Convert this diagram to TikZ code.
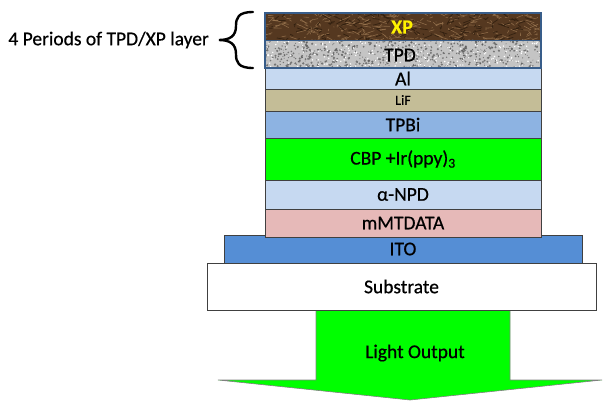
\documentclass[tikz,border=0pt]{standalone}
\usepackage{fontspec}
\setmainfont{Carlito}[FakeBold=0.6]
\definecolor{alblue}{HTML}{C6D9F1}
\definecolor{liftan}{HTML}{C4BD97}
\definecolor{tpbiblue}{HTML}{8DB3E2}
\definecolor{cbpgreen}{HTML}{00FF00}
\definecolor{mmpink}{HTML}{E6B9B8}
\definecolor{itoblue}{HTML}{558ED5}
\definecolor{edgegrey}{HTML}{404040}
\definecolor{groupblue}{HTML}{385D8A}
\definecolor{xpbrown}{HTML}{553820}
\definecolor{xplight}{HTML}{9A7650}
\definecolor{xpdark}{HTML}{2E1D0E}
\definecolor{tpdgrey}{HTML}{C4C4C4}
\definecolor{tpddark}{HTML}{5A5A5A}
\definecolor{arrowgreen}{HTML}{00FF00}
\begin{document}
\begin{tikzpicture}[x=1pt,y=-1pt,
  layer/.style={draw=edgegrey, line width=0.9pt, inner sep=0pt, font=\fontsize{19.5}{21}\selectfont, text=black},
  lbl/.style={inner sep=0pt, font=\fontsize{19.5}{21}\selectfont, text=black}]
\useasboundingbox (0,0) rectangle (603,400);
% light output arrow
\draw[draw=gray, line width=0.6pt, fill=arrowgreen]
  (316,310) -- (510,310) -- (510,380) -- (602,380) -- (410,400) -- (218,380) -- (316,380) -- cycle;
\node[lbl] (light) at (415,353) {Light Output};
% substrate and ITO
\node[layer, fill=white, minimum width=389pt, minimum height=47pt] (sub) at (401.5,286.5) {Substrate};
\node[layer, fill=itoblue, minimum width=358pt, minimum height=28pt] (ito) at (403,249) {ITO};
% organic stack
\node[layer, fill=mmpink, minimum width=276pt, minimum height=28pt] (mm) at (403,223) {mMTDATA};
\node[layer, fill=alblue, minimum width=276pt, minimum height=29pt] (npd) at (403,194.5) {α-NPD};
\node[layer, fill=cbpgreen, minimum width=276pt, minimum height=42pt] (cbp) at (403,159) {CBP +Ir(ppy)\textsubscript{3}};
\node[layer, fill=tpbiblue, minimum width=276pt, minimum height=27pt] (tpbi) at (403,124.5) {TPBi};
\node[layer, fill=liftan, minimum width=276pt, minimum height=22pt, font=\fontsize{14}{16}\selectfont] (lif) at (403,100) {LiF};
\node[layer, fill=alblue, minimum width=276pt, minimum height=21pt] (al) at (403,78.5) {Al};
% textured TPD / XP layers
\node[inner sep=0pt, fill=tpdgrey, minimum width=276pt, minimum height=28pt] (tpd) at (403,54) {};
\node[inner sep=0pt, fill=xpbrown, minimum width=276pt, minimum height=27pt] (xp) at (403,26.5) {};
\pgfmathsetseed{7}
\begin{scope}
  \clip (tpd.south west) rectangle (tpd.north east);
  \foreach \i in {1,...,650} {
    \pgfmathsetmacro\rx{265+276*rnd}
    \pgfmathsetmacro\ry{40+28*rnd}
    \pgfmathsetmacro\rr{0.4+0.9*rnd}
    \fill[tpddark, opacity=0.75] (\rx,\ry) circle (\rr pt);
  }
  \foreach \i in {1,...,220} {
    \pgfmathsetmacro\rx{265+276*rnd}
    \pgfmathsetmacro\ry{40+28*rnd}
    \fill[white] (\rx,\ry) circle (0.8pt);
  }
\end{scope}
\begin{scope}
  \clip (xp.south west) rectangle (xp.north east);
  \foreach \i in {1,...,260} {
    \pgfmathsetmacro\rx{265+276*rnd}
    \pgfmathsetmacro\ry{13+27*rnd}
    \pgfmathsetmacro\dx{10*rand}
    \pgfmathsetmacro\dy{4*rand}
    \draw[xplight, line width=0.6pt, opacity=0.8] (\rx,\ry) -- ++(\dx,\dy);
  }
  \foreach \i in {1,...,160} {
    \pgfmathsetmacro\rx{265+276*rnd}
    \pgfmathsetmacro\ry{13+27*rnd}
    \pgfmathsetmacro\dx{8*rand}
    \pgfmathsetmacro\dy{4*rand}
    \draw[xpdark, line width=0.8pt, opacity=0.8] (\rx,\ry) -- ++(\dx,\dy);
  }
\end{scope}
\draw[groupblue, line width=1pt] (tpd.south west) -- (tpd.south east);
\draw[groupblue, line width=1.8pt] (xp.north west) rectangle (tpd.south east);
\draw[groupblue, line width=1.2pt] (xp.south west) -- (xp.south east);
\node[lbl, font=\bfseries\fontsize{20}{22}\selectfont, text=yellow] (xptext) at (402,27) {XP};
\node[lbl] (tpdtext) at (400,55) {TPD};
% brace and label
\coordinate (btop) at (253,12);
\coordinate (bbot) at (253,68);
\coordinate (btip) at (219,40);
\draw[black, line width=2.4pt, line cap=round]
  (btop) .. controls (238,12) and (236,18) .. (236,26)
  .. controls (236,36) and (230,40) .. (btip)
  .. controls (230,40) and (236,44) .. (236,54)
  .. controls (236,62) and (238,68) .. (bbot);
\node[lbl, anchor=east] (period) at (209,40) {4 Periods of TPD/XP layer};
\end{tikzpicture}
\end{document}
